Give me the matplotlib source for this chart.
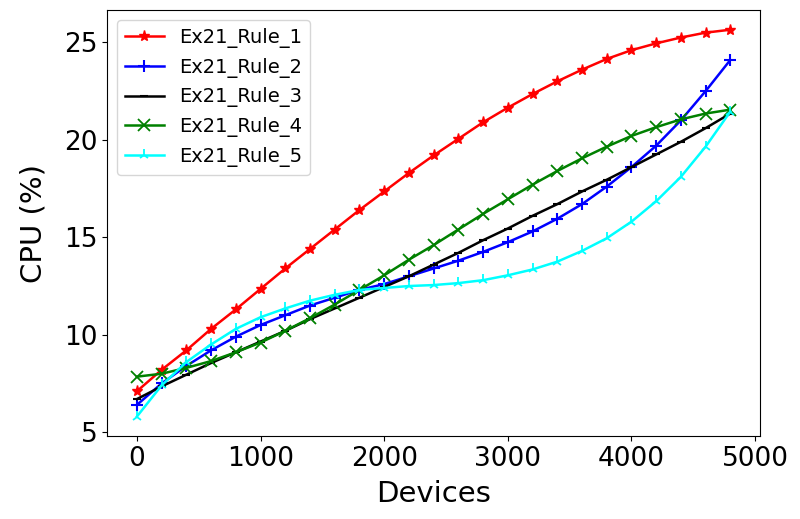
import matplotlib
matplotlib.use("Agg")
from matplotlib import pyplot as plt

devices = list(range(0, 5000, 200))

rule1 = [7.1, 8.2, 9.2, 10.3, 11.3, 12.35, 13.4, 14.4, 15.4, 16.4, 17.35, 18.3, 19.2,
         20.05, 20.9, 21.65, 22.35, 23.0, 23.6, 24.15, 24.6, 24.95, 25.25, 25.5, 25.65]
rule2 = [6.4, 7.5, 8.4, 9.2, 9.9, 10.5, 11.0, 11.5, 11.9, 12.3, 12.6, 13.0, 13.4,
         13.8, 14.25, 14.75, 15.3, 15.95, 16.7, 17.6, 18.6, 19.7, 21.0, 22.5, 24.1]
rule3 = [6.7, 7.35, 7.95, 8.55, 9.1, 9.65, 10.2, 10.8, 11.35, 11.9, 12.45, 13.0, 13.6,
         14.2, 14.85, 15.45, 16.1, 16.7, 17.35, 17.95, 18.6, 19.25, 19.9, 20.6, 21.35]
rule4 = [7.85, 8.0, 8.3, 8.65, 9.1, 9.6, 10.2, 10.85, 11.55, 12.3, 13.05, 13.85, 14.6,
         15.4, 16.2, 16.95, 17.7, 18.4, 19.05, 19.65, 20.2, 20.65, 21.05, 21.35, 21.55]
rule5 = [5.8, 7.4, 8.6, 9.5, 10.3, 10.9, 11.35, 11.75, 12.05, 12.3, 12.4, 12.5, 12.55,
         12.65, 12.8, 13.05, 13.35, 13.75, 14.3, 14.95, 15.8, 16.85, 18.1, 19.65, 21.45]

fig, ax = plt.subplots(figsize=(8, 5.19), dpi=100)

ax.plot(devices, rule1, color="red", marker="*", markersize=8, lw=1.8, label="Ex21_Rule_1")
ax.plot(devices, rule2, color="blue", marker="+", markersize=8, mew=1.5, lw=1.8, label="Ex21_Rule_2")
ax.plot(devices, rule3, color="black", marker="_", markersize=6, mew=1.5, lw=1.8, label="Ex21_Rule_3")
ax.plot(devices, rule4, color="green", marker="x", markersize=8, mew=1.3, lw=1.8, label="Ex21_Rule_4")
ax.plot(devices, rule5, color="cyan", marker="2", markersize=8, mew=1.3, lw=1.8, label="Ex21_Rule_5")

ax.set_xlabel("Devices", fontsize=21, labelpad=6)
ax.set_ylabel("CPU (%)", fontsize=21, labelpad=12)
ax.set_xticks([0, 1000, 2000, 3000, 4000, 5000])
ax.set_yticks([5, 10, 15, 20, 25])
ax.tick_params(labelsize=19)
ax.legend(loc="upper left", fontsize=14)

plt.subplots_adjust(left=0.134, right=0.95, top=0.98, bottom=0.16)
plt.savefig("out.png")
